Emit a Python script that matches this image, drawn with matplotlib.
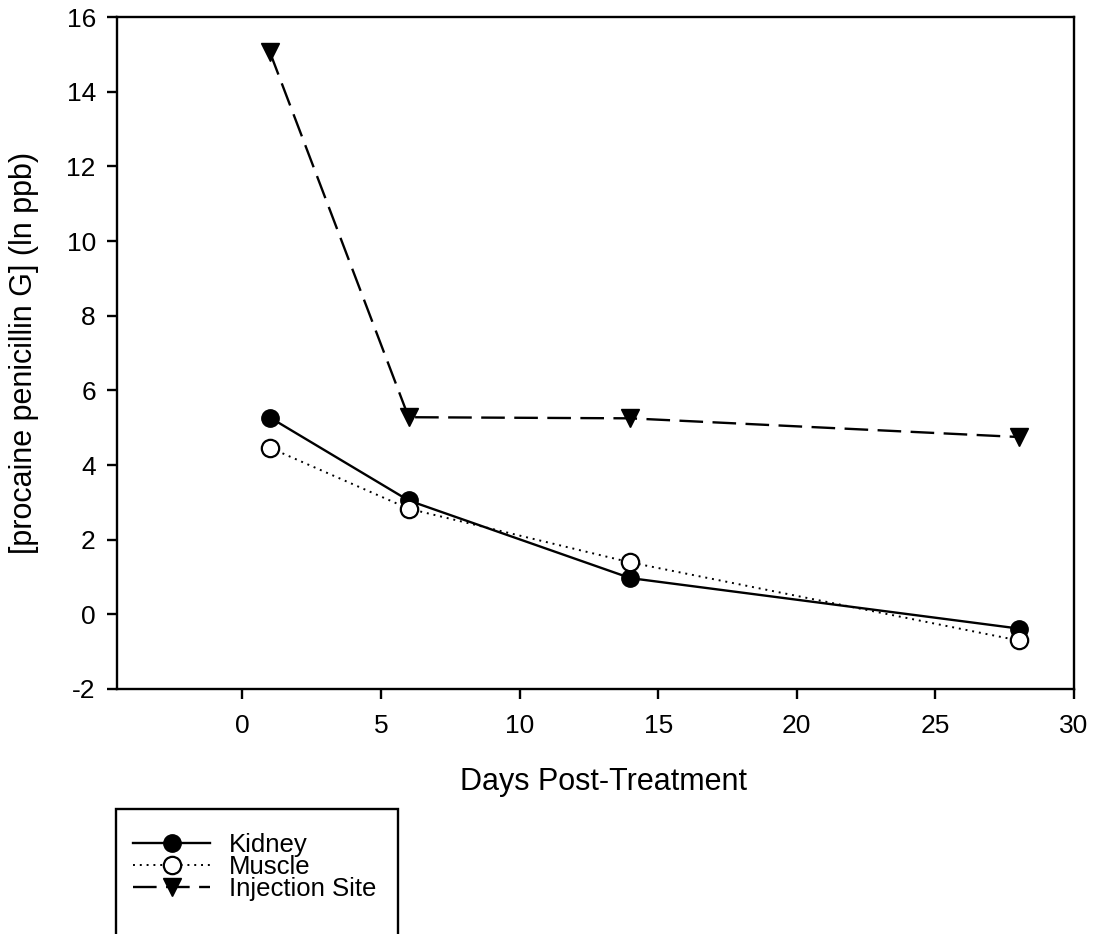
import matplotlib
matplotlib.use("Agg")
import matplotlib.pyplot as plt
from matplotlib.patches import Rectangle

plt.rcParams['font.family'] = ['Liberation Sans', 'DejaVu Sans']

days = [1, 6, 14, 28]
kidney = [5.27, 3.05, 0.97, -0.38]
muscle = [4.46, 2.83, 1.39, -0.70]
injection = [15.05, 5.28, 5.25, 4.75]
series_names = ["Kidney", "Muscle", "Injection Site"]
xticks = [0, 5, 10, 15, 20, 25, 30]
yticks = [-2, 0, 2, 4, 6, 8, 10, 12, 14, 16]

W, H = 1093, 934
fig = plt.figure(figsize=(W / 100, H / 100), dpi=100)
ax_l, ax_r, ax_t, ax_b = 116.7, 1074, 17, 689
ax = fig.add_axes([ax_l / W, 1 - ax_b / H, (ax_r - ax_l) / W, (ax_b - ax_t) / H])

l1, = ax.plot(days, kidney, '-', color='black', lw=1.7, marker='o', ms=12.5,
              mfc='black', mec='black', label=series_names[0])
l2, = ax.plot(days, muscle, linestyle=(0, (1, 2.5)), color='black', lw=1.4, marker='o', ms=12.5,
              mfc='white', mec='black', mew=1.6, label=series_names[1])
l3, = ax.plot(days, injection, linestyle=(0, (10, 4)), color='black', lw=1.7, marker='v', ms=13.5,
              mfc='black', mec='black', label=series_names[2])

ax.set_xlim(-4.53, 30)
ax.set_ylim(-2, 16)
ax.set_xticks(xticks)
ax.set_yticks(yticks)
ax.set_xticklabels([str(v) for v in xticks])
ax.set_yticklabels([str(v) for v in yticks])
for s in ax.spines.values():
    s.set_linewidth(1.7)
ax.tick_params(direction='out', length=7, width=1.7, labelsize=19)
ax.tick_params(axis='x', pad=11)
ax.tick_params(axis='y', pad=8)

ax.set_xlabel("Days Post-Treatment", fontsize=22)
ax.xaxis.set_label_coords((603.5 - ax_l) / (ax_r - ax_l), (ax_b - 767) / (ax_b - ax_t))
ax.set_ylabel("[procaine penicillin G] (ln ppb)", fontsize=22)
ax.yaxis.label.set_va('center')
ax.yaxis.set_label_coords((24 - ax_l) / (ax_r - ax_l), 0.5)

leg = fig.legend(handles=[l1, l2, l3], loc='upper left',
                 bbox_to_anchor=(133 / W, 1 - 833 / H), frameon=False,
                 fontsize=18.5, handlelength=3.0, handletextpad=0.75,
                 labelspacing=-0.07, borderpad=0, borderaxespad=0)
fig.patches.append(Rectangle((116 / W, -0.05), (398 - 116) / W, 0.05 + 1 - 809 / H,
                             transform=fig.transFigure, fill=False, edgecolor='black',
                             lw=1.7, clip_on=False))

fig.savefig("out.png", dpi=100)
